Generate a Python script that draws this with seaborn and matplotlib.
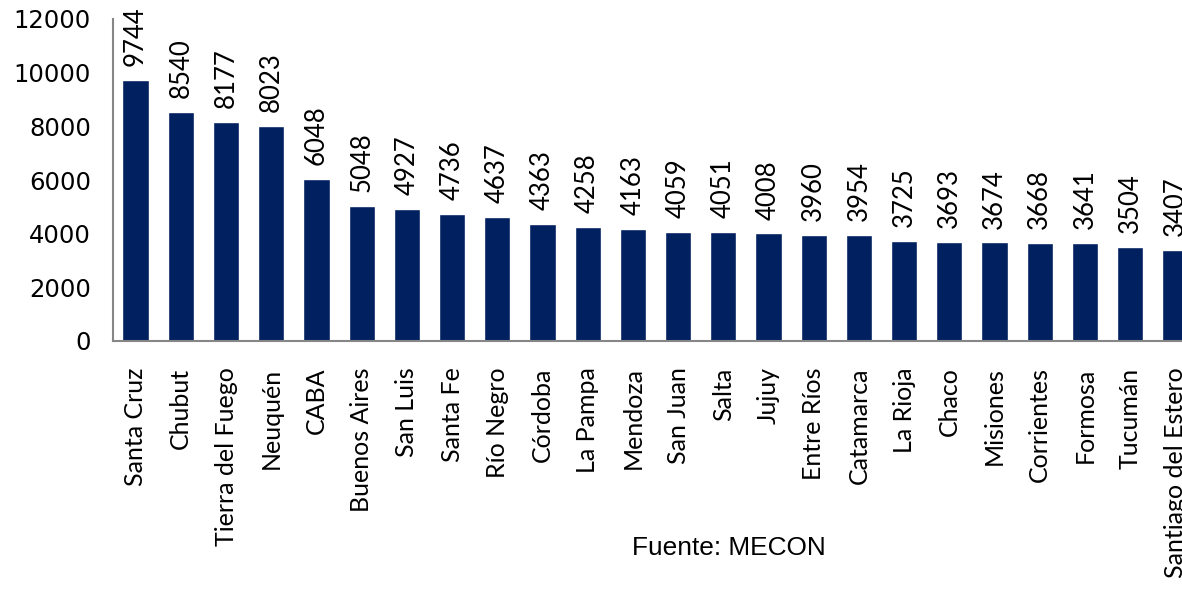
import numpy as np
import pandas as pd
import seaborn as sns
import matplotlib.pyplot as plt

provincias = ['Santa Cruz', 'Chubut', 'Tierra del Fuego', 'Neuquén', 'CABA',
              'Buenos Aires', 'San Luis', 'Santa Fe', 'Río Negro', 'Córdoba',
              'La Pampa', 'Mendoza', 'San Juan', 'Salta', 'Jujuy', 'Entre Ríos',
              'Catamarca', 'La Rioja', 'Chaco', 'Misiones', 'Corrientes',
              'Formosa', 'Tucumán', 'Santiago del Estero']
valores = [9744, 8540, 8177, 8023, 6048, 5048, 4927, 4736, 4637, 4363, 4258,
           4163, 4059, 4051, 4008, 3960, 3954, 3725, 3693, 3674, 3668, 3641,
           3504, 3407]
yticks = [0, 2000, 4000, 6000, 8000, 10000, 12000]

df = pd.DataFrame({'provincia': provincias, 'valor': valores})

sns.set_style("white")
plt.rcParams['font.family'] = ['Lato', 'DejaVu Sans']
plt.rcParams['text.color'] = 'black'
plt.rcParams['xtick.labelcolor'] = 'black'
plt.rcParams['ytick.labelcolor'] = 'black'

fig = plt.figure(figsize=(11.82, 5.92), dpi=100)
ax = fig.add_axes([113/1182, 251/592, 1085/1182, 322/592])

sns.barplot(data=df, x='provincia', y='valor', color='#002060', width=0.58,
            saturation=1, ax=ax)

ax.set_xlim(-0.5, len(provincias) - 0.5)
ax.set_ylim(0, 12000)
ax.set_yticks(yticks)
ax.set_yticklabels([str(t) for t in yticks], family='DejaVu Sans', fontsize=17.5)
ax.set_xlabel('')
ax.set_ylabel('')

ax.set_xticks(np.arange(len(provincias)))
ax.set_xticklabels(provincias, rotation=90, fontsize=18, va='top', ha='center')
ax.set_xticks(np.arange(len(provincias) + 1) - 0.5, minor=True)
ax.tick_params(axis='x', which='major', length=0, pad=19)
ax.tick_params(axis='x', which='minor', length=7, width=1.5, color='#868686', direction='out')
ax.tick_params(axis='y', length=6, width=1.5, color='#868686', direction='out', pad=10)

for s in ['top', 'right']:
    ax.spines[s].set_visible(False)
for s in ['left', 'bottom']:
    ax.spines[s].set_color('#868686')
    ax.spines[s].set_linewidth(1.5)

for i, v in enumerate(valores):
    ax.annotate(str(v), (i, v), xytext=(0, 10), textcoords='offset points',
                rotation=90, ha='center', va='bottom', fontsize=18.5,
                annotation_clip=False)

fig.text(729/1182, 1 - 548/592, 'Fuente: MECON', family='Liberation Sans',
         fontsize=18.9, ha='center', va='center')

fig.savefig('out.png', dpi=100)
